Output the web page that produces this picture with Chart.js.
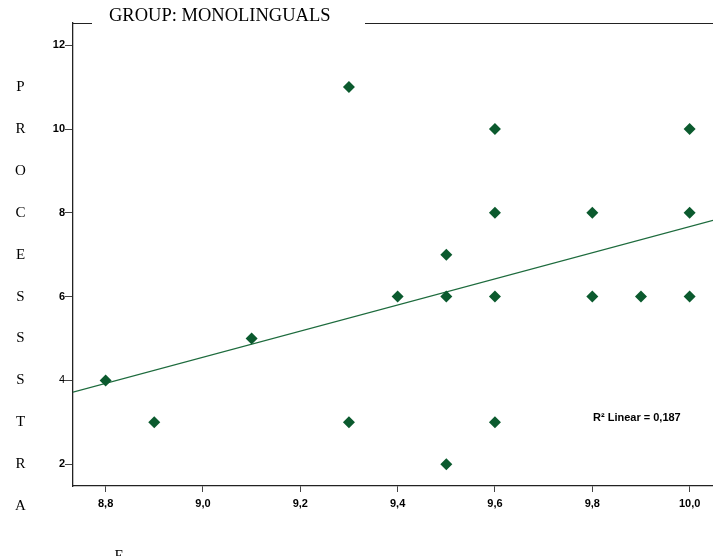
<!DOCTYPE html>
<html>
<head>
<meta charset="utf-8">
<script src="https://cdn.jsdelivr.net/npm/chart.js@4/dist/chart.umd.min.js"></script>
<style>
  html, body { margin: 0; padding: 0; background: #fff; overflow: hidden; }
  #wrap { width: 713px; height: 556px; position: relative; overflow: hidden; }
  /* a little wider so the plot runs right to the window edge */
  #inner { width: 719px; height: 556px; position: absolute; left: 0; top: 0; }
</style>
</head>
<body>
<div id="wrap"><div id="inner"><canvas id="scatterChart"></canvas></div></div>
<script>
    // values
    const speedX = [8.8, 8.9, 9.1, 9.3, 9.3, 9.4, 9.5, 9.5, 9.5, 9.6, 9.6, 9.6, 9.6, 9.8, 9.8, 9.9, 10.0, 10.0, 10.0];
    const processY = [4, 3, 5, 11, 3, 6, 7, 6, 2, 10, 8, 6, 3, 8, 6, 6, 10, 8, 6];

    // fit line ends, as drawn at the plot edges
    const fitX = [8.733, 10.048];
    const fitY = [3.72, 7.82];

    const xTicks = [8.8, 9.0, 9.2, 9.4, 9.6, 9.8, 10.0];
    const yTicks = [2, 4, 6, 8, 10, 12];

    const titleText = 'GROUP: MONOLINGUALS';
    const sideLetters = ['P', 'R', 'O', 'C', 'E', 'S', 'S', 'S', 'T', 'R', 'A'];
    const fitLabel = 'R\u00B2 Linear = 0,187';

    const green = '#0b5a2e';

    // extra text and frame line
    const decorPlugin = {
        id: 'decor',
        afterDraw(chart) {
            const ctx = chart.ctx;
            const area = chart.chartArea;
            const yScale = chart.scales.y;
            ctx.save();

            // top frame line with gap for title
            ctx.strokeStyle = '#222';
            ctx.lineWidth = 1;
            ctx.beginPath();
            ctx.moveTo(area.left, 23.5);
            ctx.lineTo(92, 23.5);
            ctx.moveTo(365, 23.5);
            ctx.lineTo(area.right, 23.5);
            ctx.stroke();

            ctx.fillStyle = '#000';
            ctx.font = '18.5px "Liberation Serif", "Times New Roman", serif';
            ctx.textAlign = 'left';
            ctx.textBaseline = 'alphabetic';
            ctx.fillText(titleText, 109, 20.5);

            // letters down the left side
            ctx.font = '15px "Liberation Serif", "Times New Roman", serif';
            ctx.textAlign = 'center';
            ctx.textBaseline = 'middle';
            sideLetters.forEach((ch, i) => {
                ctx.fillText(ch, 20.5, yScale.getPixelForValue(11 - i));
            });
            ctx.textBaseline = 'alphabetic';
            ctx.fillText('E', 119, 560);

            // R squared label
            ctx.font = 'bold 11px "Liberation Sans", Arial, sans-serif';
            ctx.textAlign = 'left';
            ctx.textBaseline = 'middle';
            ctx.fillText(fitLabel, 593, 418);

            ctx.restore();
        }
    };

    function commaLabel(v) {
        return Number(v).toFixed(1).replace('.', ',');
    }

    let chartCtx = document.getElementById('scatterChart').getContext('2d');
    // noinspection JSUnresolvedReference
    let scatterChart = new Chart(chartCtx, {
        type: 'scatter',
        data: {
            datasets: [{
                label: 'Fit line',
                type: 'line',
                data: fitX.map((x, i) => ({ x: x, y: fitY[i] })),
                borderColor: '#1d6b3d',
                borderWidth: 1.2,
                pointRadius: 0,
                fill: false,
                order: 2
            }, {
                label: 'Monolinguals',
                data: speedX.map((x, i) => ({ x: x, y: processY[i] })),
                pointStyle: 'rectRot',
                pointRadius: 6,
                backgroundColor: green,
                borderColor: green,
                borderWidth: 0,
                order: 1
            }]
        },
        options: {
            responsive: true,
            maintainAspectRatio: false,
            animation: false,
            layout: { padding: { top: 23, left: 0, right: 0, bottom: 0 } },
            plugins: {
                legend: { display: false },
                tooltip: { enabled: false }
            },
            scales: {
                x: {
                    type: 'linear',
                    min: 8.733,
                    max: 10.048,
                    afterFit: s => { s.height = 70; },
                    afterBuildTicks: s => { s.ticks = xTicks.map(v => ({ value: v })); },
                    grid: {
                        drawOnChartArea: false,
                        drawTicks: true,
                        tickLength: 6,
                        color: '#444'
                    },
                    border: { display: true, color: '#222', width: 1.3 },
                    ticks: {
                        color: '#000',
                        padding: 5,
                        maxRotation: 0,
                        font: { family: '"Liberation Sans", Arial, sans-serif', size: 11, weight: 'bold' },
                        callback: v => commaLabel(v)
                    }
                },
                y: {
                    type: 'linear',
                    min: 1.48,
                    max: 12.53,
                    afterFit: s => { s.width = 73; },
                    afterBuildTicks: s => { s.ticks = yTicks.map(v => ({ value: v })); },
                    grid: {
                        drawOnChartArea: false,
                        drawTicks: true,
                        tickLength: 8,
                        color: '#444'
                    },
                    border: { display: true, color: '#222', width: 1.3 },
                    ticks: {
                        color: '#000',
                        padding: 0,
                        font: ctx => ({
                            family: '"Liberation Sans", Arial, sans-serif',
                            size: 11,
                            weight: ctx.tick && ctx.tick.value === 4 ? 'normal' : 'bold'
                        }),
                        callback: v => String(v)
                    }
                }
            }
        },
        plugins: [decorPlugin]
    });
</script>
</body>
</html>
